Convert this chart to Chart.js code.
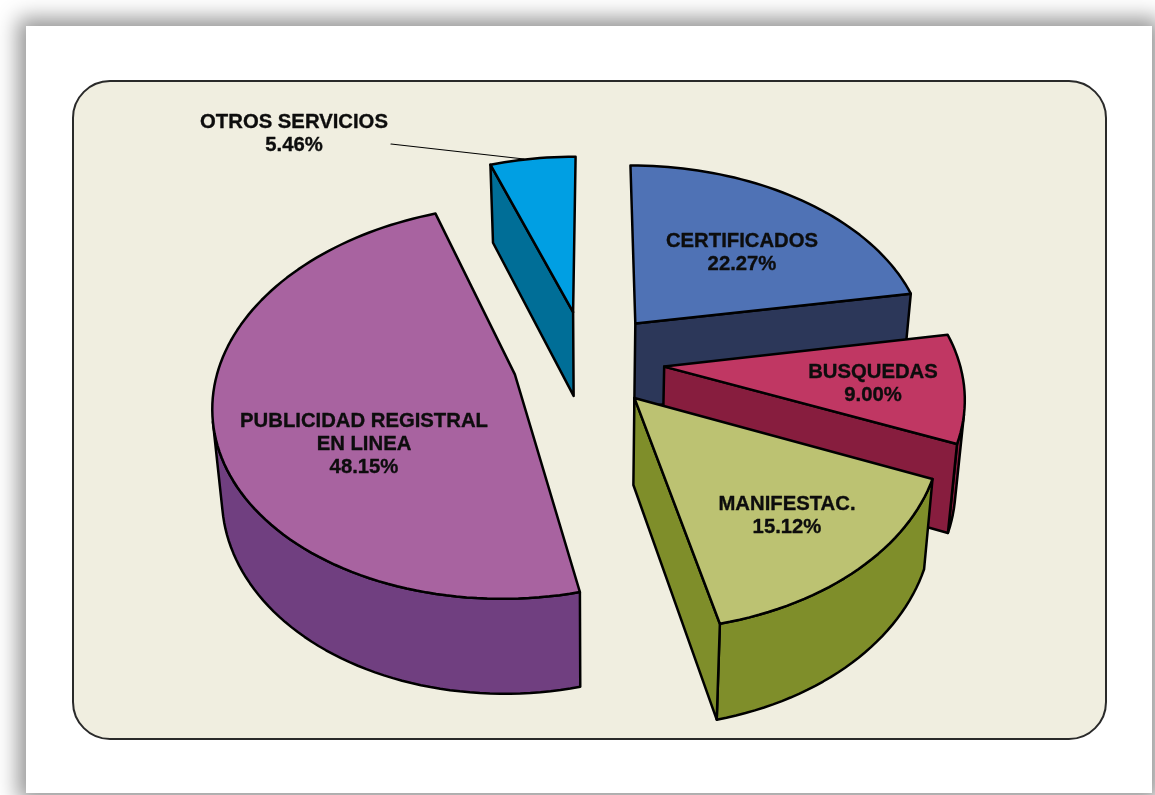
<!DOCTYPE html>
<html>
<head>
<meta charset="utf-8">
<script src="https://cdn.jsdelivr.net/npm/chart.js@4/dist/chart.umd.min.js"></script>
<style>
  html, body { margin: 0; padding: 0; width: 1155px; height: 795px; overflow: hidden; background: #fff; }
  #sheet { position: absolute; left: 26px; top: 26px; width: 1126px; height: 767px; background: #fff;
           box-shadow: 0 0 20px 8px rgba(0,0,0,.42); }
  #panel { position: absolute; left: 72px; top: 80px; width: 1031px; height: 656px; box-sizing: content-box;
           background: #f0eee0; border: 2px solid #2a2a2a; border-radius: 38px; }
  canvas { position: absolute; left: 0; top: 0; }
</style>
</head>
<body>
<div id="sheet"></div>
<div id="panel"></div>
<canvas id="c" width="1155" height="795"></canvas>
<script>
const categories = ["CERTIFICADOS", "BUSQUEDAS", "MANIFESTAC.", "PUBLICIDAD REGISTRAL EN LINEA", "OTROS SERVICIOS"];
const shares = [22.27, 9.0, 15.12, 48.15, 5.46];
const explode = [93, 93, 87, 87, 95];
const topColors = ["#4f72b5", "#c03763", "#bcc272", "#a863a0", "#009fe3"];
const wallColors = ["#2c3759", "#871d3e", "#7f8e2a", "#703f80", "#006e97"];

// label text lines and where they sit on the page
const labelLines = [
  ["CERTIFICADOS", "22.27%"],
  ["BUSQUEDAS", "9.00%"],
  ["MANIFESTAC.", "15.12%"],
  ["PUBLICIDAD REGISTRAL", "EN LINEA", "48.15%"],
  ["OTROS SERVICIOS", "5.46%"],
];
const labelSpots = [[742, 241], [873, 372], [787, 504], [364, 421], [294, 122]];

// flat pie -> tilted view, fitted to the reference perspective
function project(X, Y, bottom) {
  const w = 1 + 0.138 * Y;
  let x = (295 * X + 82 * Y + 586) / w;
  let y = (361 - 139.6 * Y) / w;
  if (bottom) {
    x = 594 + (x - 594) * 0.975;
    y = 1.039 * y + 71.6;
  }
  return [x, y];
}

function fillPoly(ctx, pts, color) {
  ctx.beginPath();
  pts.forEach((p, i) => (i ? ctx.lineTo(p[0], p[1]) : ctx.moveTo(p[0], p[1])));
  ctx.closePath();
  ctx.fillStyle = color;
  ctx.fill();
  ctx.stroke();
}

function side(a, b, c) {
  return (b[0] - a[0]) * (c[1] - a[1]) - (b[1] - a[1]) * (c[0] - a[0]);
}

// curved outer wall: only the runs of steps that turn towards the viewer
function drawRimWall(ctx, top, low, apex, color) {
  const last = top.length - 1;
  let k = 0;
  while (k < last) {
    const shows = (n) => side(top[n], top[n + 1], low[n]) * side(top[n], top[n + 1], apex) < 0;
    if (!shows(k)) {
      k++;
      continue;
    }
    let end = k;
    while (end < last && shows(end)) end++;
    const t = top.slice(k, end + 1);
    const l = low.slice(k, end + 1).reverse();
    fillPoly(ctx, t.concat(l), color);
    k = end;
  }
}

const pie3d = {
  id: "pie3d",
  beforeDatasetsDraw(chart) {
    const ctx = chart.ctx;
    const arcs = chart.getDatasetMeta(0).data.map((el, i) => {
      const p = el.getProps(["startAngle", "endAngle", "outerRadius"], true);
      const mid = (p.startAngle + p.endAngle) / 2;
      const e = el.options.offset / p.outerRadius;
      return { i, start: p.startAngle, end: p.endAngle, mid, ox: Math.cos(mid) * e, oy: -Math.sin(mid) * e };
    });
    // back slices first
    arcs.sort((a, b) => Math.sin(a.mid) - Math.sin(b.mid));

    ctx.save();
    ctx.lineWidth = 2.5;
    ctx.strokeStyle = "#000";
    ctx.lineJoin = "round";
    ctx.lineCap = "round";
    arcs.forEach((a) => {
      const rim = [];
      const steps = Math.ceil((a.end - a.start) / 0.03);
      for (let s = 0; s <= steps; s++) {
        const t = a.start + ((a.end - a.start) * s) / steps;
        rim.push([a.ox + Math.cos(t), a.oy - Math.sin(t)]);
      }
      const top = rim.map((r) => project(r[0], r[1], false));
      const low = rim.map((r) => project(r[0], r[1], true));
      const apexTop = project(a.ox, a.oy, false);
      const apexLow = project(a.ox, a.oy, true);
      const last = rim.length - 1;
      const inner = top[Math.floor(last / 2)];

      drawRimWall(ctx, top, low, apexTop, wallColors[a.i]);
      // a cut face only shows when it hangs clearly outside the top of the slice
      [0, last].forEach((k) => {
        const s = side(apexTop, top[k], apexLow);
        const gap = Math.abs(s) / Math.hypot(top[k][0] - apexTop[0], top[k][1] - apexTop[1]);
        if (gap > 6 && s * side(apexTop, top[k], inner) < 0) {
          fillPoly(ctx, [apexTop, top[k], low[k], apexLow], wallColors[a.i]);
        }
      });
      fillPoly(ctx, [apexTop].concat(top), topColors[a.i]);
    });

    // leader line of the small slice
    ctx.lineWidth = 1.2;
    ctx.beginPath();
    ctx.moveTo(391, 144);
    ctx.lineTo(524, 159);
    ctx.stroke();

    ctx.fillStyle = "#0d0d0d";
    ctx.strokeStyle = "#0d0d0d";
    ctx.lineWidth = 0.35;
    ctx.font = "bold 20.3px 'Liberation Sans'";
    ctx.textAlign = "center";
    ctx.textBaseline = "middle";
    labelLines.forEach((lines, i) => {
      lines.forEach((line, j) => {
        ctx.fillText(line, labelSpots[i][0], labelSpots[i][1] + j * 23);
        ctx.strokeText(line, labelSpots[i][0], labelSpots[i][1] + j * 23);
      });
    });
    ctx.restore();
    return false;
  },
};

new Chart(document.getElementById("c"), {
  type: "pie",
  data: {
    labels: categories,
    datasets: [{ data: shares, backgroundColor: topColors, borderWidth: 0, offset: explode }],
  },
  options: {
    responsive: false,
    animation: false,
    events: [],
    layout: { padding: 0 },
    plugins: { legend: { display: false }, tooltip: { enabled: false } },
  },
  plugins: [pie3d],
});
</script>
</body>
</html>
